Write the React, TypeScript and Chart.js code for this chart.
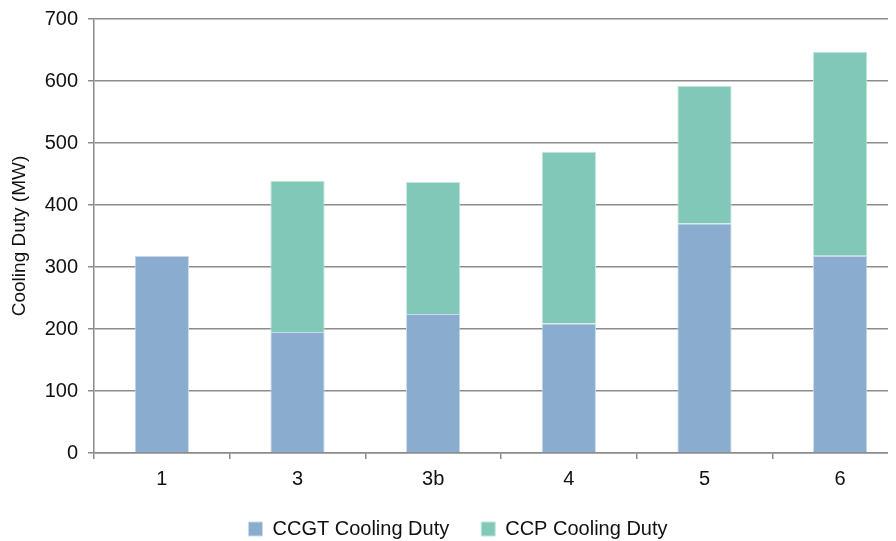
import React, { useEffect, useRef } from "react";
import { Chart, registerables } from "chart.js";

Chart.register(...registerables);

const categories = ["1", "3", "3b", "4", "5", "6"];
const ccgtValues = [318, 195, 224, 209, 370, 318];
const ccpValues = [0, 244, 213, 277, 222, 329];
const yTicks = [0, 100, 200, 300, 400, 500, 600, 700];

const FONT = "'Liberation Sans', Arial, sans-serif";

export default function App() {
  const ref = useRef<HTMLCanvasElement | null>(null);

  useEffect(() => {
    document.documentElement.style.overflow = "hidden";
    document.body.style.overflow = "hidden";
    const ctx = ref.current!;
    const chart = new Chart(ctx, {
      type: "bar",
      data: {
        labels: categories,
        datasets: [
          {
            label: "CCGT Cooling Duty",
            data: ccgtValues,
            backgroundColor: "#8AACCE",
            borderColor: "#C9DAEA",
            borderWidth: 1,
            barPercentage: 0.4,
            categoryPercentage: 1,
          },
          {
            label: "CCP Cooling Duty",
            data: ccpValues,
            backgroundColor: "#82C8B8",
            borderColor: "#C2E6DD",
            borderWidth: 1,
            barPercentage: 0.4,
            categoryPercentage: 1,
          },
        ],
      },
      options: {
        animation: false,
        responsive: false,
        maintainAspectRatio: false,
        layout: { padding: { top: 0, left: 0, right: 0, bottom: -8 } },
        plugins: {
          legend: {
            position: "bottom",
            labels: {
              boxWidth: 14,
              boxHeight: 14,
              padding: 32,
              color: "#111",
              font: { family: FONT, size: 20 },
            },
          },
          tooltip: { enabled: false },
        },
        scales: {
          x: {
            stacked: true,
            offset: true,
            afterFit: (scale: any) => {
              scale.height = scale.height - 12;
            },
            grid: {
              offset: true,
              drawOnChartArea: false,
              drawTicks: true,
              tickLength: 6,
              color: "#8c8c8c",
              lineWidth: 1.5,
            },
            border: { display: true, color: "#8c8c8c", width: 1.5 },
            ticks: {
              color: "#111",
              padding: 8,
              font: { family: FONT, size: 20 },
            },
          },
          y: {
            stacked: true,
            min: 0,
            max: 700,
            afterBuildTicks: (scale: any) => {
              scale.ticks = yTicks.map((v) => ({ value: v }));
            },
            afterFit: (scale: any) => {
              scale.width = 86;
              scale.paddingTop = 11;
            },
            grid: {
              color: "#8c8c8c",
              lineWidth: 1.5,
              tickLength: 6,
            },
            border: { display: true, color: "#8c8c8c", width: 1.5 },
            ticks: {
              color: "#111",
              padding: 10,
              font: { family: FONT, size: 20 },
            },
            title: {
              display: true,
              text: "Cooling Duty (MW)",
              color: "#111",
              font: { family: FONT, size: 19 },
              padding: 0,
            },
          },
        },
      },
    });
    return () => chart.destroy();
  }, []);

  return (
    <div style={{ width: 888, height: 533, overflow: "hidden" }}>
      <canvas ref={ref} width={900} height={533} style={{ width: 900, height: 533, display: "block" }} />
    </div>
  );
}
